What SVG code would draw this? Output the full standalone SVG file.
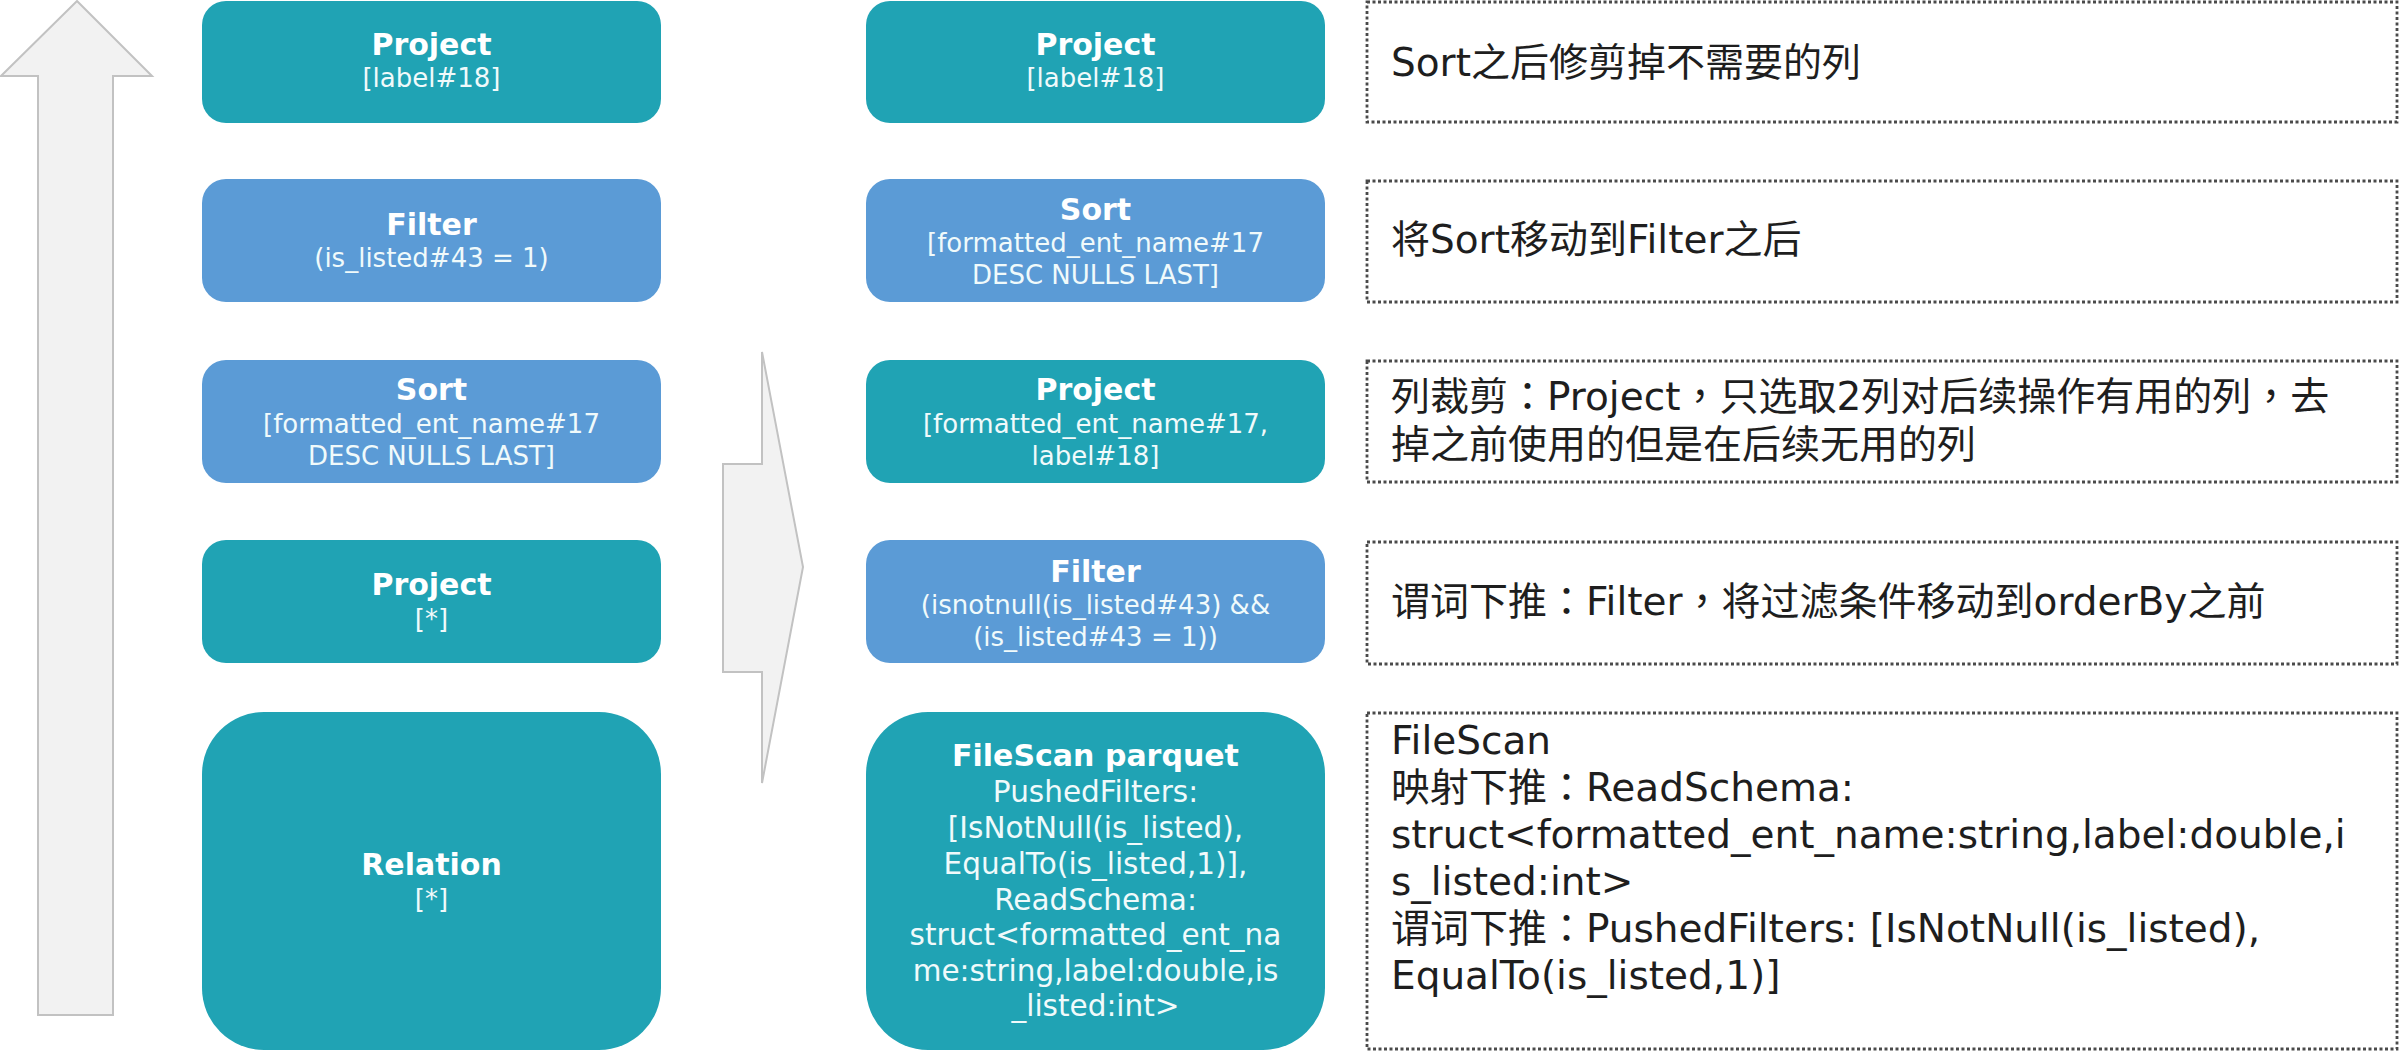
<svg xmlns="http://www.w3.org/2000/svg" width="2400" height="1054" viewBox="0 0 2400 1054">
<style>
.teal{fill:#20a3b4}
.blue{fill:#5b9bd6}
.t{font-family:"DejaVu Sans","Liberation Sans",sans-serif;font-weight:bold;font-size:30px;fill:#ffffff;text-anchor:middle}
.s{font-family:"DejaVu Sans","Liberation Sans",sans-serif;font-size:26px;fill:#f0fafb;text-anchor:middle}
.s2{font-family:"DejaVu Sans","Liberation Sans",sans-serif;font-size:29.5px;fill:#f0fafb;text-anchor:middle}
.note{fill:none;stroke:#4a4a4a;stroke-width:2.8;stroke-dasharray:3 2.5}
.nt{font-family:"DejaVu Sans","Noto Sans CJK TC","Noto Sans CJK SC",sans-serif;font-size:39px;fill:#1e1e1e}
.flow{fill:#f2f2f2;stroke:#c2c2c2;stroke-width:2}
</style>
<rect width="2400" height="1054" fill="#ffffff"/>
<g id="connectors">
<polygon class="flow" points="77,1 152,76 113,76 113,1015 38,1015 38,76 1,76"/>
<polygon class="flow" points="723,464 762,464 762,352 803,567 762,783 762,672 723,672"/>
</g>
<g id="l-project-label">
<rect class="teal" x="202" y="1" width="459" height="122" rx="24"/>
<text class="t" x="431.5" y="55">Project</text>
<text class="s" x="431.5" y="87">[label#18]</text>
</g>
<g id="l-filter">
<rect class="blue" x="202" y="179" width="459" height="123" rx="24"/>
<text class="t" x="431.5" y="235">Filter</text>
<text class="s" x="431.5" y="267">(is_listed#43 = 1)</text>
</g>
<g id="l-sort">
<rect class="blue" x="202" y="360" width="459" height="123" rx="24"/>
<text class="t" x="431.5" y="400">Sort</text>
<text class="s" x="431.5" y="433">[formatted_ent_name#17</text>
<text class="s" x="431.5" y="465">DESC NULLS LAST]</text>
</g>
<g id="l-project-all">
<rect class="teal" x="202" y="540" width="459" height="123" rx="24"/>
<text class="t" x="431.5" y="595">Project</text>
<text class="s" x="431.5" y="628">[*]</text>
</g>
<g id="l-relation">
<rect class="teal" x="202" y="712" width="459" height="338" rx="62"/>
<text class="t" x="431.5" y="875">Relation</text>
<text class="s" x="431.5" y="908">[*]</text>
</g>
<g id="r-project-label">
<rect class="teal" x="866" y="1" width="459" height="122" rx="24"/>
<text class="t" x="1095.5" y="55">Project</text>
<text class="s" x="1095.5" y="87">[label#18]</text>
</g>
<g id="r-sort">
<rect class="blue" x="866" y="179" width="459" height="123" rx="24"/>
<text class="t" x="1095.5" y="220">Sort</text>
<text class="s" x="1095.5" y="252">[formatted_ent_name#17</text>
<text class="s" x="1095.5" y="284">DESC NULLS LAST]</text>
</g>
<g id="r-project-cols">
<rect class="teal" x="866" y="360" width="459" height="123" rx="24"/>
<text class="t" x="1095.5" y="400">Project</text>
<text class="s" x="1095.5" y="433">[formatted_ent_name#17,</text>
<text class="s" x="1095.5" y="465">label#18]</text>
</g>
<g id="r-filter">
<rect class="blue" x="866" y="540" width="459" height="123" rx="24"/>
<text class="t" x="1095.5" y="582">Filter</text>
<text class="s" x="1095.5" y="614">(isnotnull(is_listed#43) &amp;&amp;</text>
<text class="s" x="1095.5" y="646">(is_listed#43 = 1))</text>
</g>
<g id="r-filescan">
<rect class="teal" x="866" y="712" width="459" height="338" rx="62"/>
<text class="t" x="1095.5" y="766">FileScan parquet</text>
<text class="s2" x="1095.5" y="802">PushedFilters:</text>
<text class="s2" x="1095.5" y="838">[IsNotNull(is_listed),</text>
<text class="s2" x="1095.5" y="874">EqualTo(is_listed,1)],</text>
<text class="s2" x="1095.5" y="910">ReadSchema:</text>
<text class="s2" x="1095.5" y="945">struct&lt;formatted_ent_na</text>
<text class="s2" x="1095.5" y="981">me:string,label:double,is</text>
<text class="s2" x="1095.5" y="1016">_listed:int&gt;</text>
</g>
<g id="note-1">
<rect class="note" x="1367" y="2" width="1030" height="120"/>
<text class="nt" x="1391" y="76">Sort之后修剪掉不需要的列</text>
</g>
<g id="note-2">
<rect class="note" x="1367" y="181" width="1030" height="121"/>
<text class="nt" x="1391" y="253">将Sort移动到Filter之后</text>
</g>
<g id="note-3">
<rect class="note" x="1367" y="361" width="1030" height="121"/>
<text class="nt" x="1391" y="410">列裁剪：Project，只选取2列对后续操作有用的列，去</text>
<text class="nt" x="1391" y="458">掉之前使用的但是在后续无用的列</text>
</g>
<g id="note-4">
<rect class="note" x="1367" y="542" width="1030" height="122"/>
<text class="nt" x="1391" y="615">谓词下推：Filter，将过滤条件移动到orderBy之前</text>
</g>
<g id="note-5">
<rect class="note" x="1367" y="713" width="1030" height="336"/>
<text class="nt" x="1391" y="754">FileScan</text>
<text class="nt" x="1391" y="801">映射下推：ReadSchema:</text>
<text class="nt" x="1391" y="848">struct&lt;formatted_ent_name:string,label:double,i</text>
<text class="nt" x="1391" y="895">s_listed:int&gt;</text>
<text class="nt" x="1391" y="942">谓词下推：PushedFilters: [IsNotNull(is_listed),</text>
<text class="nt" x="1391" y="989">EqualTo(is_listed,1)]</text>
</g>
</svg>
